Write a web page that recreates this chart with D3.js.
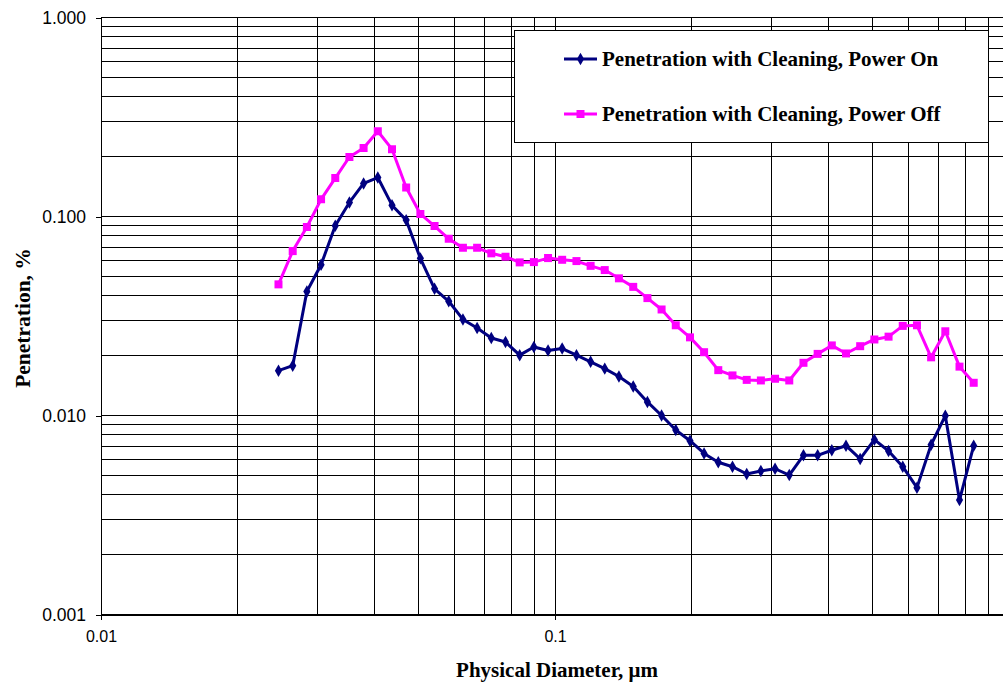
<!DOCTYPE html>
<html>
<head>
<meta charset="utf-8">
<script src="https://cdn.jsdelivr.net/npm/d3@7"></script>
<style>
  body { margin: 0; background: #fff; }
  svg { display: block; }
</style>
</head>
<body>
<div id="chart"></div>
<script>
// Particle diameters (um), one per measurement channel
const diameters = [
  0.0246, 0.02644, 0.02841, 0.03053, 0.03281, 0.03525, 0.03788, 0.04071, 0.04375, 0.04701,
  0.05052, 0.05429, 0.05834, 0.06269, 0.06737, 0.07239, 0.07780, 0.08360, 0.08984, 0.09654,
  0.1037, 0.1115, 0.1198, 0.1287, 0.1383, 0.1487, 0.1598, 0.1717, 0.1845, 0.1983,
  0.2130, 0.2289, 0.2460, 0.2644, 0.2841, 0.3053, 0.3281, 0.3526, 0.3789, 0.4071,
  0.4375, 0.4701, 0.5052, 0.5429, 0.5834, 0.6270, 0.6737, 0.7240, 0.7780, 0.8361
];

// Penetration (%) with cleaning, power on
const powerOn = [
  0.0168, 0.0178, 0.042, 0.0572, 0.0898, 0.1177, 0.1466, 0.157, 0.114, 0.0959,
  0.0616, 0.0433, 0.0375, 0.0304, 0.0275, 0.0245, 0.0234, 0.0201, 0.0221, 0.0212,
  0.0217, 0.0201, 0.0186, 0.0172, 0.0157, 0.0140, 0.0117, 0.0100, 0.00845, 0.00747,
  0.00645, 0.00582, 0.00553, 0.00508, 0.00526, 0.00540, 0.00502, 0.00631, 0.00631, 0.00669,
  0.00705, 0.00605, 0.00756, 0.00663, 0.00553, 0.00434, 0.00713, 0.00998, 0.00376, 0.00705
];

// Penetration (%) with cleaning, power off
const powerOff = [
  0.0456, 0.067, 0.0885, 0.122, 0.156, 0.199, 0.221, 0.268, 0.218, 0.140,
  0.103, 0.0895, 0.0772, 0.0696, 0.0696, 0.0653, 0.0628, 0.0588, 0.059, 0.0618,
  0.0606, 0.0597, 0.0565, 0.0538, 0.0489, 0.0443, 0.0389, 0.0341, 0.0284, 0.0247,
  0.0208, 0.0169, 0.0159, 0.0151, 0.0150, 0.0153, 0.0150, 0.0184, 0.0204, 0.0225,
  0.0205, 0.0223, 0.0241, 0.0249, 0.0282, 0.0284, 0.0196, 0.0265, 0.0176, 0.0146
];

const seriesNames = ["Penetration with Cleaning, Power On", "Penetration with Cleaning, Power Off"];
const xTicks = [0.01, 0.1];
const xTickLabels = ["0.01", "0.1"];
const yTicks = [0.001, 0.01, 0.1, 1];

const W = 1003, H = 683;
const plotLeft = 101, plotTop = 17.5, plotBottom = 614.5;
const titleFont = "'Times New Roman', 'Liberation Serif', serif";

const svg = d3.select("#chart").append("svg")
    .attr("width", W)
    .attr("height", H);

// log scales, one decade = 454px on x, 199px on y
const x = d3.scaleLog().domain([0.01, 1]).range([plotLeft, plotLeft + 908]);
const y = d3.scaleLog().domain([0.001, 1]).range([plotBottom, plotTop]);

svg.append("clipPath").attr("id", "plotClip")
  .append("rect")
    .attr("x", plotLeft).attr("y", plotTop - 1)
    .attr("width", W - plotLeft).attr("height", plotBottom - plotTop + 2);

// minor + major grid values
const gridX = [], gridY = [];
[0.01, 0.1].forEach(d => { for (let k = 1; k <= 9; k++) gridX.push(d * k); });
gridX.push(1);
[0.001, 0.01, 0.1].forEach(d => { for (let k = 1; k <= 9; k++) gridY.push(d * k); });
gridY.push(1);

const grid = svg.append("g").attr("clip-path", "url(#plotClip)")
    .attr("shape-rendering", "crispEdges");

grid.selectAll("line.gy")
  .data(gridY)
  .enter().append("line")
    .attr("class", "gy")
    .attr("x1", plotLeft).attr("x2", W)
    .attr("y1", d => y(d)).attr("y2", d => y(d))
    .attr("stroke", "#000").attr("stroke-width", 1);

grid.selectAll("line.gx")
  .data(gridX)
  .enter().append("line")
    .attr("class", "gx")
    .attr("x1", d => x(d)).attr("x2", d => x(d))
    .attr("y1", plotTop).attr("y2", plotBottom)
    .attr("stroke", "#000").attr("stroke-width", 1);

// axes
const yAxis = svg.append("g")
    .attr("transform", `translate(${plotLeft},0)`)
    .call(d3.axisLeft(y).tickValues(yTicks).tickFormat(d3.format(".3f"))
      .tickSize(5).tickSizeOuter(0).tickPadding(10));
yAxis.selectAll("text")
    .style("font-family", "Arial, 'Liberation Sans', sans-serif")
    .style("font-size", "17.5px")
    .style("fill", "#000");

const xAxis = svg.append("g")
    .attr("transform", `translate(0,${plotBottom})`)
    .call(d3.axisBottom(x).tickValues(xTicks).tickFormat((d, i) => xTickLabels[i])
      .tickSize(5).tickSizeOuter(0).tickPadding(11));
xAxis.selectAll("text")
    .style("font-family", "Arial, 'Liberation Sans', sans-serif")
    .style("font-size", "16px")
    .style("fill", "#000");

[yAxis, xAxis].forEach(a => {
  a.attr("shape-rendering", "crispEdges");
  a.select(".domain").attr("stroke", "#000");
  a.selectAll(".tick line").attr("stroke", "#000");
});

// axis titles
svg.append("text")
    .attr("x", 557)
    .attr("y", 677)
    .attr("text-anchor", "middle")
    .style("font-family", titleFont)
    .style("font-weight", "bold")
    .style("font-size", "21px")
    .text("Physical Diameter, \u03bcm");

svg.append("text")
    .attr("transform", "translate(30,318) rotate(-90)")
    .attr("text-anchor", "middle")
    .style("font-family", titleFont)
    .style("font-weight", "bold")
    .style("font-size", "21.5px")
    .text("Penetration, %");

// series
const series = [
  { name: seriesNames[0], values: powerOn, color: "#000080", marker: d3.symbolDiamond, size: 45 },
  { name: seriesNames[1], values: powerOff, color: "#FF00FF", marker: d3.symbolSquare, size: 64 }
];

const line = d3.line()
    .x(d => x(d[0]))
    .y(d => y(d[1]));

const plot = svg.append("g").attr("clip-path", "url(#plotClip)");

series.slice().reverse().forEach(s => {
  const pts = diameters.map((d, i) => [d, s.values[i]]);
  plot.append("path")
      .datum(pts)
      .attr("fill", "none")
      .attr("stroke", s.color)
      .attr("stroke-width", 3)
      .attr("stroke-linejoin", "round")
      .attr("d", line);
  plot.selectAll(null)
      .data(pts)
      .enter().append("path")
      .attr("transform", d => `translate(${x(d[0])},${y(d[1])})`)
      .attr("d", d3.symbol().type(s.marker).size(s.size))
      .attr("fill", s.color);
});

// legend
const legend = svg.append("g");
legend.append("rect")
    .attr("x", 514.5).attr("y", 30.5)
    .attr("width", 474).attr("height", 112)
    .attr("fill", "#fff")
    .attr("stroke", "#000")
    .attr("stroke-width", 1)
    .attr("shape-rendering", "crispEdges");

const item = legend.selectAll(".item")
  .data(series)
  .enter().append("g")
    .attr("class", "item")
    .attr("transform", (d, i) => `translate(564,${59 + i * 55})`);

item.append("line")
    .attr("x1", 0).attr("x2", 33)
    .attr("stroke", d => d.color)
    .attr("stroke-width", 3);
item.append("path")
    .attr("transform", "translate(16.5,0)")
    .attr("d", d => d3.symbol().type(d.marker).size(d.size)())
    .attr("fill", d => d.color);
item.append("text")
    .attr("x", 38)
    .attr("dy", "0.35em")
    .style("font-family", titleFont)
    .style("font-weight", "bold")
    .style("font-size", "21px")
    .text(d => d.name);
</script>
</body>
</html>
